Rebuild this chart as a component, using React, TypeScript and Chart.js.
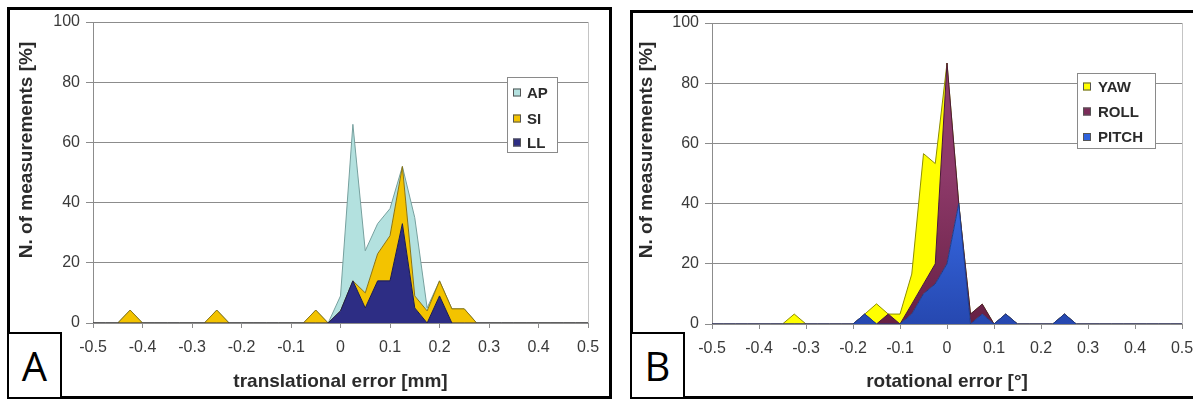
import React, { useEffect, useRef } from "react";
import { Chart, registerables } from "chart.js";

Chart.register(...registerables);

// Error bins (centre of each 0.025 class) shared by both panels
const errorBins = [
  -0.5, -0.475, -0.45, -0.425, -0.4, -0.375, -0.35, -0.325, -0.3, -0.275,
  -0.25, -0.225, -0.2, -0.175, -0.15, -0.125, -0.1, -0.075, -0.05, -0.025,
  0, 0.025, 0.05, 0.075, 0.1, 0.125, 0.15, 0.175, 0.2, 0.225,
  0.25, 0.275, 0.3, 0.325, 0.35, 0.375, 0.4, 0.425, 0.45, 0.475,
  0.5,
];

const xTickLabels = ["-0.5", "-0.4", "-0.3", "-0.2", "-0.1", "0", "0.1", "0.2", "0.3", "0.4", "0.5"];
const yTickLabels = ["0", "20", "40", "60", "80", "100"];

// Panel A: translational error, percentage of measurements per bin (stacked LL, SI, AP)
const llValues = [
  0, 0, 0, 0, 0, 0, 0, 0, 0, 0,
  0, 0, 0, 0, 0, 0, 0, 0, 0, 0,
  4, 14, 5, 14, 14, 33, 5, 0, 9, 0,
  0, 0, 0, 0, 0, 0, 0, 0, 0, 0,
  0,
];
const siValues = [
  0, 0, 0, 4.3, 0, 0, 0, 0, 0, 0,
  4.3, 0, 0, 0, 0, 0, 0, 0, 4.3, 0,
  0, 0, 5, 9, 15, 19, 4, 4, 5, 4.7,
  4.7, 0, 0, 0, 0, 0, 0, 0, 0, 0,
  0,
];
const apValues = [
  0, 0, 0, 0, 0, 0, 0, 0, 0, 0,
  0, 0, 0, 0, 0, 0, 0, 0, 0, 0,
  5, 52, 14, 10, 9, 0, 26, 1, 0, 0,
  0, 0, 0, 0, 0, 0, 0, 0, 0, 0,
  0,
];

// Panel B: rotational error, percentage of measurements per bin (stacked PITCH, ROLL, YAW)
const pitchValues = [
  0, 0, 0, 0, 0, 0, 0, 0, 0, 0,
  0, 0, 0, 3.3, 0, 0, 0, 3.3, 10, 13.3,
  20, 40, 0, 3.3, 0, 3.3, 0, 0, 0, 0,
  3.3, 0, 0, 0, 0, 0, 0, 0, 0, 0,
  0,
];
const rollValues = [
  0, 0, 0, 0, 0, 0, 0, 0, 0, 0,
  0, 0, 0, 0, 0, 3.3, 0, 3.3, 3.3, 6.7,
  66.7, 0, 3.3, 3.3, 0, 0, 0, 0, 0, 0,
  0, 0, 0, 0, 0, 0, 0, 0, 0, 0,
  0,
];
const yawValues = [
  0, 0, 0, 0, 0, 0, 0, 3.3, 0, 0,
  0, 0, 0, 0, 6.7, 0, 3.3, 10, 43.3, 33.3,
  0, 0, 0, 0, 0, 0, 0, 0, 0, 0,
  0, 0, 0, 0, 0, 0, 0, 0, 0, 0,
  0,
];

const FONT = "'Liberation Sans', Arial, Helvetica, sans-serif";
const AXIS_GRAY = "#8c8c8c";
const TEXT_DARK = "#2b2b2b";

type Series = {
  label: string;
  values: number[];
  fill: string;
  line: string;
  shade?: [string, string]; // optional vertical shading: [bottom, upper]
};

type PanelSpec = {
  canvasLeft: number;
  canvasWidth: number;
  padding: { left: number; top: number; right: number; bottom: number };
  yAxisWidth: number;
  xAxisHeight: number;
  series: Series[]; // bottom of the stack first
  xTitle: string;
  yTitle: string;
  yTitlePos: { x: number; y: number };
  legendBox: { x: number; y: number; w: number; h: number };
  legendRows: number[];
  swatchX: number;
  textX: number;
};

const panelA: PanelSpec = {
  canvasLeft: 0,
  canvasWidth: 611,
  padding: { left: 0, top: 22, right: 23, bottom: 0 },
  yAxisWidth: 93,
  xAxisHeight: 78,
  series: [
    { label: "LL", values: llValues, fill: "#2d2d84", line: "#1b1b4e" },
    { label: "SI", values: siValues, fill: "#f3c300", line: "#8a7414" },
    { label: "AP", values: apValues, fill: "#b3e1df", line: "#76a09e" },
  ],
  xTitle: "translational error [mm]",
  yTitle: "N. of measurements [%]",
  yTitlePos: { x: 27, y: 150 },
  legendBox: { x: 507, y: 77, w: 51, h: 76 },
  legendRows: [92.5, 118.5, 142.5],
  swatchX: 513,
  textX: 527,
};

const panelB: PanelSpec = {
  canvasLeft: 620,
  canvasWidth: 600,
  padding: { left: 0, top: 23, right: 38, bottom: 0 },
  yAxisWidth: 92,
  xAxisHeight: 77,
  series: [
    { label: "PITCH", values: pitchValues, fill: "#2f62dc", line: "#1c3b8a", shade: ["#2648b0", "#3a70ee"] },
    { label: "ROLL", values: rollValues, fill: "#7b2c59", line: "#4a1934", shade: ["#672044", "#8e3a6a"] },
    { label: "YAW", values: yawValues, fill: "#ffff00", line: "#8e8e00" },
  ],
  xTitle: "rotational error [°]",
  yTitle: "N. of measurements [%]",
  yTitlePos: { x: 27, y: 150 },
  legendBox: { x: 457, y: 73, w: 79, h: 76 },
  legendRows: [86.5, 111.5, 137],
  swatchX: 463,
  textX: 478,
};

// Legend box, rotated y title and the plot frame's right edge
function panelDecor(spec: PanelSpec) {
  return {
    id: "panelDecor",
    afterDraw(chart: any) {
      const { ctx, chartArea } = chart;
      ctx.save();

      ctx.strokeStyle = "#c4c4c4";
      ctx.lineWidth = 1;
      ctx.beginPath();
      const rx = Math.round(chartArea.right) + 0.5;
      ctx.moveTo(rx, chartArea.top);
      ctx.lineTo(rx, chartArea.bottom);
      ctx.stroke();

      // y axis title
      ctx.save();
      ctx.translate(spec.yTitlePos.x, spec.yTitlePos.y);
      ctx.rotate(-Math.PI / 2);
      ctx.font = `bold 19px ${FONT}`;
      ctx.fillStyle = TEXT_DARK;
      ctx.textAlign = "center";
      ctx.textBaseline = "middle";
      ctx.fillText(spec.yTitle, 0, 0);
      ctx.restore();

      // legend, top series first
      const b = spec.legendBox;
      ctx.fillStyle = "#ffffff";
      ctx.fillRect(b.x, b.y, b.w, b.h);
      ctx.strokeStyle = "#8a8a8a";
      ctx.strokeRect(b.x + 0.5, b.y + 0.5, b.w - 1, b.h - 1);
      const items = [...spec.series].reverse();
      items.forEach((s, i) => {
        const cy = spec.legendRows[i];
        ctx.fillStyle = s.fill;
        ctx.fillRect(spec.swatchX, cy - 4, 8, 8);
        ctx.strokeStyle = "#555555";
        ctx.strokeRect(spec.swatchX + 0.5, cy - 3.5, 7, 7);
        ctx.fillStyle = TEXT_DARK;
        ctx.font = `bold 15px ${FONT}`;
        ctx.textAlign = "left";
        ctx.textBaseline = "middle";
        ctx.fillText(s.label, spec.textX, cy + 1);
      });
      ctx.restore();
    },
  };
}

function areaFill(s: Series) {
  if (!s.shade) return s.fill;
  const [bottom, upper] = s.shade;
  return (c: any) => {
    const area = c.chart.chartArea;
    if (!area) return s.fill;
    const g = c.chart.ctx.createLinearGradient(0, area.bottom, 0, area.top + area.height * 0.5);
    g.addColorStop(0, bottom);
    g.addColorStop(1, upper);
    return g;
  };
}

function buildChart(canvas: HTMLCanvasElement, spec: PanelSpec) {
  const datasets = spec.series.map((s, i) => ({
    label: s.label,
    data: errorBins.map((x, k) => ({ x, y: s.values[k] })),
    backgroundColor: areaFill(s),
    borderColor: s.line,
    borderWidth: 1,
    pointRadius: 0,
    tension: 0,
    fill: i === 0 ? "origin" : "-1",
  }));

  return new Chart(canvas, {
    type: "line",
    data: { datasets },
    options: {
      animation: false,
      responsive: false,
      maintainAspectRatio: false,
      layout: { padding: spec.padding },
      plugins: {
        legend: { display: false },
        tooltip: { enabled: false },
      },
      scales: {
        x: {
          type: "linear",
          min: -0.5,
          max: 0.5,
          afterFit: (scale: any) => {
            scale.height = spec.xAxisHeight;
          },
          grid: {
            drawOnChartArea: false,
            drawTicks: true,
            tickLength: 5,
            color: AXIS_GRAY,
          },
          border: { display: true, color: AXIS_GRAY, width: 1 },
          ticks: {
            stepSize: 0.1,
            autoSkip: false,
            maxRotation: 0,
            padding: 10,
            color: "#3a3a3a",
            font: { family: FONT, size: 16 },
            callback: (_v: any, i: number) => xTickLabels[i],
          },
          title: {
            display: true,
            text: spec.xTitle,
            color: TEXT_DARK,
            font: { family: FONT, size: 19, weight: "bold" },
            padding: { top: 0, bottom: 8 },
          },
        },
        y: {
          stacked: true,
          min: 0,
          max: 100,
          afterFit: (scale: any) => {
            scale.width = spec.yAxisWidth;
          },
          grid: {
            drawTicks: true,
            tickLength: 7,
            color: AXIS_GRAY,
          },
          border: { display: true, color: AXIS_GRAY, width: 1 },
          ticks: {
            stepSize: 20,
            padding: 6,
            color: "#3a3a3a",
            font: { family: FONT, size: 16 },
            callback: (_v: any, i: number) => yTickLabels[i],
          },
        },
      },
    } as any,
    plugins: [panelDecor(spec)],
  });
}

function ChartCanvas({ spec }: { spec: PanelSpec }) {
  const ref = useRef<HTMLCanvasElement>(null);
  useEffect(() => {
    const chart = buildChart(ref.current as HTMLCanvasElement, spec);
    return () => chart.destroy();
  }, [spec]);
  return (
    <canvas
      ref={ref}
      width={spec.canvasWidth}
      height={401}
      style={{ position: "absolute", left: spec.canvasLeft, top: 0, width: spec.canvasWidth, height: 401 }}
    />
  );
}

const frame = (left: number, top: number, width: number, height: number): React.CSSProperties => ({
  position: "absolute",
  left,
  top,
  width,
  height,
  border: "3px solid #000",
  boxSizing: "border-box",
});

const letterBox = (left: number, top: number): React.CSSProperties => ({
  position: "absolute",
  left,
  top,
  width: 55,
  height: 67,
  border: "2px solid #000",
  boxSizing: "border-box",
  background: "#fff",
  display: "flex",
  alignItems: "center",
  justifyContent: "center",
  fontFamily: "'Open Sans', 'Liberation Sans', sans-serif",
  fontSize: 40,
  color: "#000",
  lineHeight: 1,
});

export default function App() {
  return (
    <div
      style={{
        position: "fixed",
        left: 0,
        top: 0,
        width: 1193,
        height: 401,
        overflow: "hidden",
        background: "#fff",
      }}
    >
      <div style={frame(7, 7, 605, 392)} />
      <div style={frame(630, 10, 620, 389)} />
      <ChartCanvas spec={panelA} />
      <ChartCanvas spec={panelB} />
      <div style={letterBox(7, 332)}>A</div>
      <div style={letterBox(630, 332)}>B</div>
    </div>
  );
}
